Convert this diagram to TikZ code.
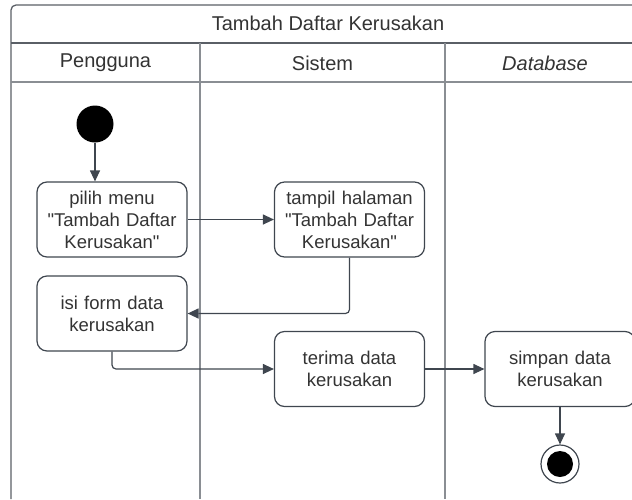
\documentclass[tikz,border=0pt]{standalone}
\usepackage{fontspec}
\setmainfont{Liberation Sans}
\newcommand\straightdq{\XeTeXglyph\XeTeXcharglyph"22\relax}
\usetikzlibrary{arrows.meta}
\definecolor{txt}{HTML}{333333}
\definecolor{edge}{HTML}{3F464F}
\definecolor{lane}{HTML}{8A8E93}
\definecolor{frame}{HTML}{5A5F66}
\tikzset{
  act/.style={draw=edge, line width=1.2pt, rounded corners=10pt, minimum width=150pt, minimum height=75pt, text width=140pt, align=center, text=txt, font=\fontsize{18.5pt}{22pt}\selectfont, inner sep=0pt},
  flow/.style={draw=edge, line width=1.2pt, -{Triangle[length=11pt,width=10pt]}, rounded corners=4pt},
  lanehead/.style={text=txt, font=\fontsize{20pt}{24pt}\selectfont, inner sep=0pt},
  laneline/.style={draw=lane, line width=1.3pt},
}
\begin{document}
\begin{tikzpicture}[x=1pt,y=-1pt]
\useasboundingbox (0,0) rectangle (632,499);
% frame and lanes
\draw[draw=frame, line width=1.3pt, rounded corners=5pt] (11,499) -- (11,5) -- (632,5);
\draw[draw=frame, line width=1.3pt] (11,43) -- (632,43);
\draw[laneline] (11,82) -- (632,82);
\draw[laneline] (200,43) -- (200,499);
\draw[laneline] (445,43) -- (445,499);
\node[lanehead] (title) at (328,23) {Tambah Daftar Kerusakan};
\node[lanehead] (h1) at (105.5,63) {Pengguna};
\node[lanehead] (h2) at (322.5,63) {Sistem};
\node[lanehead] (h3) at (545,63) {\itshape Database};
% nodes
\node[circle, fill=black, minimum size=37pt, inner sep=0pt] (start) at (95,124) {};
\node[act] (pilih) at (112,219.5) {pilih menu\\\straightdq Tambah Daftar\\Kerusakan\straightdq};
\node[act] (tampil) at (349.5,219.5) {tampil halaman\\\straightdq Tambah Daftar\\Kerusakan\straightdq};
\node[act] (isi) at (112,313.5) {isi form data\\kerusakan};
\node[act] (terima) at (349.5,369) {terima data\\kerusakan};
\node[act] (simpan) at (560,369) {simpan data\\kerusakan};
\node[circle, draw=edge, line width=1.2pt, fill=white, minimum size=38pt, inner sep=0pt] (end) at (560,464) {};
\node[circle, fill=black, minimum size=26pt, inner sep=0pt] (endin) at (end.center) {};
% connectors
\draw[flow] (start) -- (start |- pilih.north);
\draw[flow] (pilih) -- (tampil);
\draw[flow] (tampil.south) |- (isi.east);
\draw[flow] (isi.south) |- (terima.west);
\draw[flow] (terima) -- (simpan);
\draw[flow] (simpan) -- (end);
\end{tikzpicture}
\end{document}
